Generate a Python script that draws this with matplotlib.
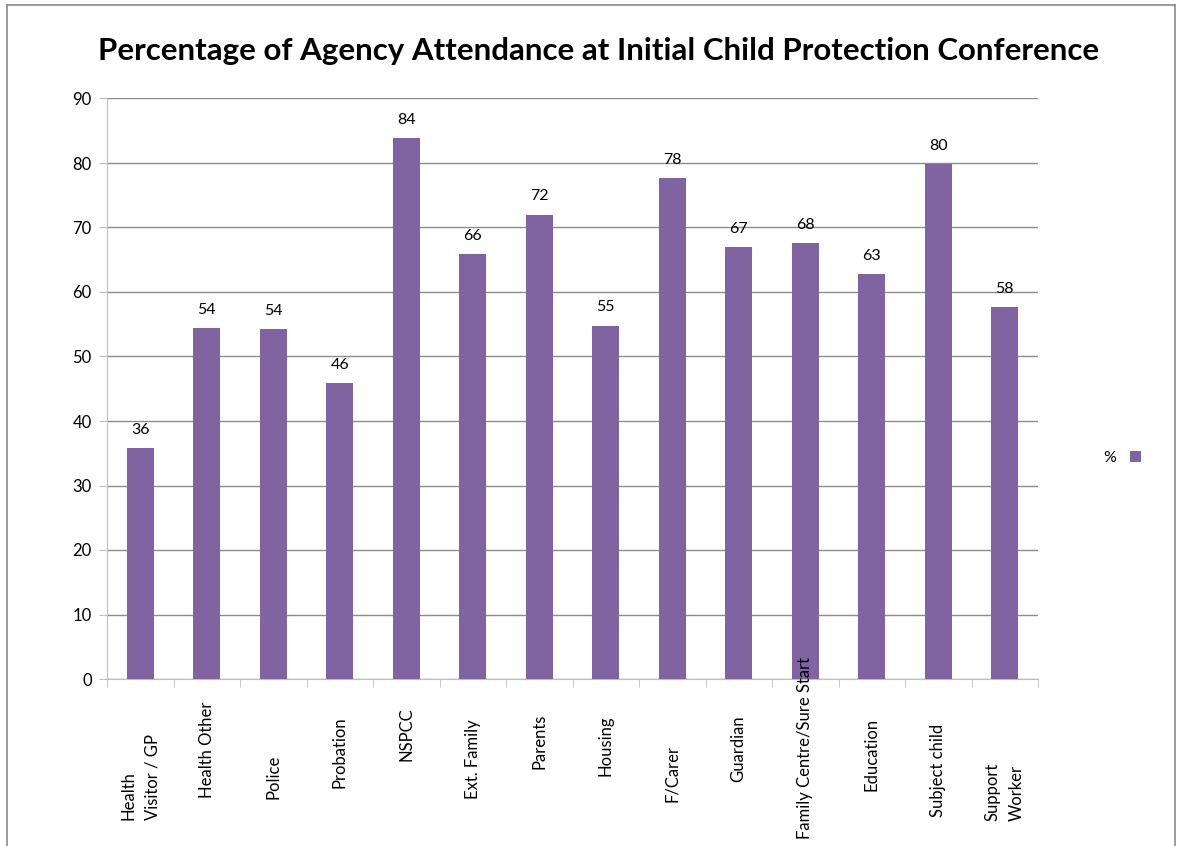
import matplotlib
matplotlib.use('Agg')
import matplotlib.pyplot as plt
import matplotlib.transforms as mtransforms
from matplotlib.lines import Line2D

plt.rcParams['font.family'] = ['Lato', 'DejaVu Sans']

PURPLE = '#8064A2'
GRID = '#8C8C8C'
AXIS = '#BFBFBF'

categories = ['Health\nVisitor / GP', 'Health Other', 'Police', 'Probation',
              'NSPCC', 'Ext. Family', 'Parents', 'Housing', 'F/Carer',
              'Guardian', 'Family Centre/Sure Start', 'Education',
              'Subject child', 'Support\nWorker']
values = [35.8, 54.4, 54.2, 45.9, 83.8, 65.9, 72.0, 54.8, 77.6, 66.9,
          67.6, 62.8, 79.9, 57.6]
series_name = '%'

# vertical centre (pixels from top) of each rotated category label
label_centre_px = [777, 750, 777, 752, 734, 759, 741, 746, 773, 749,
                   748, 754, 770, 792]

W, H = 1180, 846
fig = plt.figure(figsize=(W / 100, H / 100), dpi=100)
ax = fig.add_axes([107 / W, 1 - 679 / H, (1038 - 107) / W, (679 - 98.5) / H])

x = list(range(len(categories)))
bars = ax.bar(x, values, width=0.41, color=PURPLE, label=series_name, zorder=3)
for bar, v in zip(bars, values):
    ax.annotate(f'{v:.0f}', (bar.get_x() + bar.get_width() / 2, v),
                xytext=(0, 8), textcoords='offset points',
                ha='center', va='bottom', fontsize=11.5, color='black')

ax.set_xlim(-0.5, len(categories) - 0.5)
ax.set_ylim(0, 90)
ax.set_yticks(range(0, 91, 10))
ax.tick_params(axis='y', labelsize=12, length=6, color=AXIS, pad=5)
ax.yaxis.grid(True, color=GRID, linewidth=1, zorder=0)
ax.set_axisbelow(True)

ax.set_xticks(x, labels=[])
ax.tick_params(axis='x', which='major', length=0)
ax.set_xticks([i - 0.5 for i in range(len(categories) + 1)], minor=True)
ax.tick_params(axis='x', which='minor', length=6, color=AXIS)

for side in ['top', 'right']:
    ax.spines[side].set_visible(False)
ax.spines['left'].set_color(AXIS)
ax.spines['bottom'].set_color(AXIS)

trans = mtransforms.blended_transform_factory(ax.transData, fig.transFigure)
for xi, lab, ypx in zip(x, categories, label_centre_px):
    ax.text(xi, 1 - ypx / H, lab, rotation=90, ha='center', va='center',
            multialignment='left', fontsize=12, transform=trans,
            linespacing=1.6)

fig.text(599 / W, 1 - 51 / H,
         'Percentage of Agency Attendance at Initial Child Protection Conference',
         ha='center', va='center', fontsize=22.5, fontweight='bold')

fig.legend(handles=[bars], labels=[series_name], loc='center',
           bbox_to_anchor=(1122 / W, 1 - 458 / H), frameon=False,
           markerfirst=False, handlelength=0.7, handleheight=0.7,
           handletextpad=0.9, fontsize=11.5)

# outer chart border (bottom edge is cut off in the original)
for xs, ys in [([7, 7], [846, 5]), ([7, 1175], [5, 5]), ([1175, 1175], [5, 846])]:
    fig.add_artist(Line2D([v / W for v in xs], [1 - v / H for v in ys],
                          color='#8A8A8A', linewidth=1.2))

fig.savefig('out.png', dpi=100)
